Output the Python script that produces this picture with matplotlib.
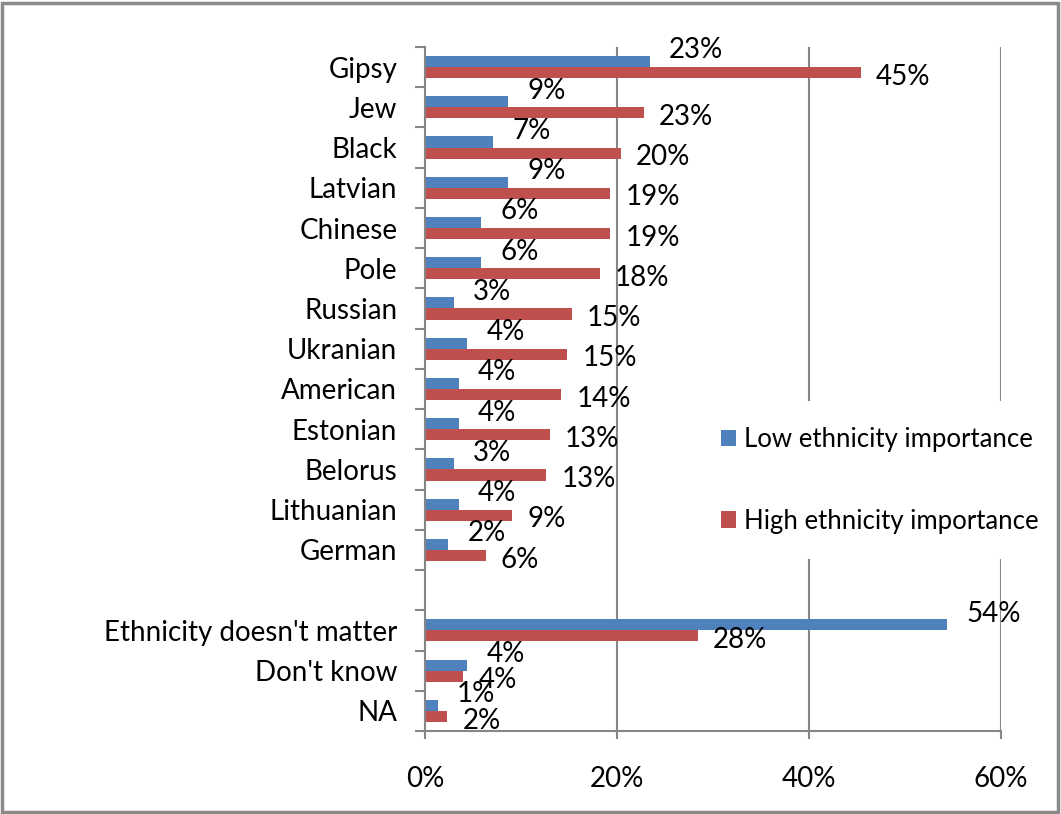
import numpy as np
import matplotlib
matplotlib.use('Agg')
import matplotlib.pyplot as plt
from matplotlib.patches import Rectangle
from matplotlib.transforms import ScaledTranslation

plt.rcParams['font.family'] = ['Lato', 'DejaVu Sans']

# categories top to bottom, '' is the empty gap row
categories = ['Gipsy', 'Jew', 'Black', 'Latvian', 'Chinese', 'Pole', 'Russian',
              'Ukranian', 'American', 'Estonian', 'Belorus', 'Lithuanian', 'German',
              '', "Ethnicity doesn't matter", "Don't know", 'NA']
low = [23.4, 8.6, 7.1, 8.6, 5.8, 5.8, 3.0, 4.4, 3.5, 3.5, 3.0, 3.5, 2.4,
       None, 54.4, 4.4, 1.3]
high = [45.4, 22.8, 20.4, 19.3, 19.3, 18.2, 15.3, 14.8, 14.2, 13.0, 12.6, 9.1, 6.3,
        None, 28.4, 4.0, 2.3]
series_names = ['Low ethnicity importance', 'High ethnicity importance']
x_ticks = [0, 20, 40, 60]

blue = '#4F81BD'
red = '#C0504D'
grey = '#868686'
fs = 20

fig = plt.figure(figsize=(10.61, 8.14), dpi=100)
ax = fig.add_axes([0.4006, 0.102, 0.5428, 0.8403])

n = len(categories)
y = np.arange(n)
h = 0.275
for vals, col, off, name, dxy in [(low, blue, -h / 2, series_names[0], (14, 8)),
                                  (high, red, h / 2, series_names[1], (11, -3))]:
    yy = [y[i] + off for i in range(n) if vals[i] is not None]
    vv = [v for v in vals if v is not None]
    ax.barh(yy, vv, height=h, color=col, label=name)
    for yi, v in zip(yy, vv):
        ax.annotate('%d%%' % round(v), (v, yi), xytext=dxy, textcoords='offset points',
                    ha='left', va='center', fontsize=fs, color='black')

ax.set_ylim(n - 0.5, -0.5)
ax.set_xlim(0, 60)
ax.set_yticks(y)
ax.set_yticklabels(categories, fontsize=fs)
for lbl in ax.get_yticklabels():
    lbl.set_transform(lbl.get_transform() + ScaledTranslation(0, 3 / 100, fig.dpi_scale_trans))
ax.set_yticks(np.arange(n + 1) - 0.5, minor=True)
ax.tick_params(axis='y', which='major', length=0, pad=20)
ax.tick_params(axis='y', which='minor', length=7, width=1.5, color=grey, direction='out')
ax.set_xticks(x_ticks)
ax.set_xticklabels(['%d%%' % t for t in x_ticks], fontsize=fs)
ax.tick_params(axis='x', length=6, width=1.5, color=grey, direction='out', pad=19)
ax.xaxis.grid(True, color=grey, linewidth=1.5)
ax.set_axisbelow(True)
for s in ['top', 'right']:
    ax.spines[s].set_visible(False)
for s in ['left', 'bottom']:
    ax.spines[s].set_color(grey)
    ax.spines[s].set_linewidth(1.5)

leg = ax.legend(loc='center left', bbox_to_anchor=(0.643, 0.41), bbox_transform=fig.transFigure,
                fontsize=18.5, frameon=True, framealpha=1, edgecolor='none', facecolor='white',
                labelspacing=2.2, handlelength=0.6, handleheight=0.6, handletextpad=0.3,
                borderpad=1.0, fancybox=False)

fig.patches.append(Rectangle((0.002, 0.003), 0.995, 0.993, transform=fig.transFigure,
                             fill=False, edgecolor='#8a8a8a', linewidth=2.5))

fig.savefig('out.png', dpi=100)
